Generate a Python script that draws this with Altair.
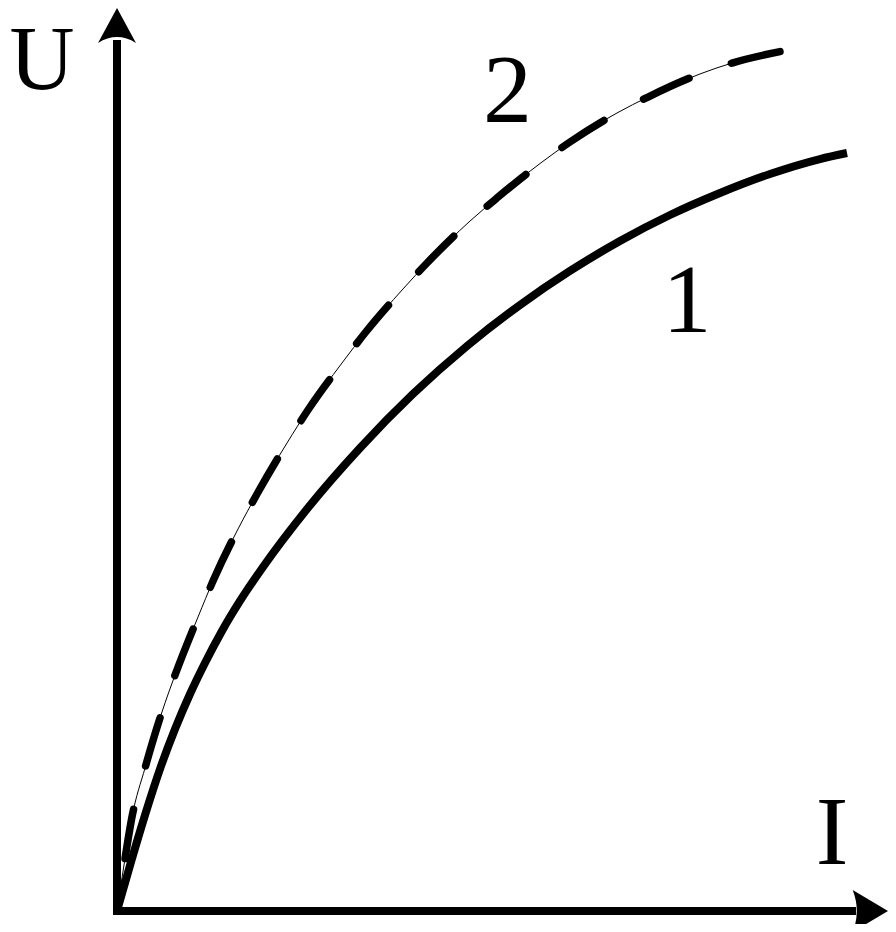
import altair as alt
import pandas as pd

# ---- data (I: current, U: voltage; arbitrary units 0..100) ----
# Curve 1 (solid, thick)
c1_I = [0, 0.82, 1.92, 3.84, 5.89, 7.95, 10.0, 12.05, 14.38, 16.85, 20.0, 26.03,
        33.29, 40.55, 47.95, 55.21, 62.05, 68.90, 75.75, 82.60, 89.45, 96.30, 100.0]
c1_U = [0, 2.44, 5.70, 11.16, 16.51, 21.16, 25.23, 28.84, 32.56, 36.05, 40.0, 46.74,
        53.84, 60.12, 65.70, 70.47, 74.42, 77.91, 80.93, 83.49, 85.70, 87.44, 88.14]

# Curve 2 (dashed)
c2_I = [0, 0.96, 2.05, 3.84, 6.16, 7.95, 11.10, 13.15, 16.58, 19.18, 23.29, 26.16,
        30.82, 33.97, 39.18, 42.47, 48.36, 52.05, 58.22, 62.05, 68.49, 72.74, 79.86,
        84.25, 91.23]
c2_U = [0, 5.35, 10.93, 16.63, 23.14, 27.44, 34.19, 38.37, 44.42, 48.49, 54.42, 58.26,
        63.72, 67.21, 72.33, 75.35, 80.23, 82.91, 87.09, 89.42, 92.79, 94.65, 97.33,
        98.60, 100.0]

# Text labels
labels = ["U", "I", "2", "1"]
label_I = [-10.27, 97.95, 53.49, 78.08]
label_U = [95.58, 5.47, 91.74, 67.33]
label_size = [90, 98, 98, 98]

# Axis extents (data units)
x_axis_I = [-0.55, 101.23]
y_axis_U = [-0.47, 101.28]
arrow_I = [0.0, 102.74]
arrow_U = [102.44, 0.0]

# ---- scales ----
xs = alt.Scale(domain=[-14.932, 105.616], nice=False, zero=False)
ys = alt.Scale(domain=[-1.512, 105.0], nice=False, zero=False)

def X(f="I"):
    return alt.X(f"{f}:Q", scale=xs, axis=None)

def Y(f="U"):
    return alt.Y(f"{f}:Q", scale=ys, axis=None)

df1 = pd.DataFrame({"I": c1_I, "U": c1_U})
df2 = pd.DataFrame({"I": c2_I, "U": c2_U})
dfl = pd.DataFrame({"I": label_I, "U": label_U, "t": labels, "s": label_size})

yaxis = alt.Chart(pd.DataFrame({"I": [0.0], "U": [y_axis_U[0]], "U2": [y_axis_U[1]]})).mark_rule(
    color="black", strokeWidth=8, strokeCap="butt"
).encode(x=X(), y=Y(), y2="U2:Q")

xaxis = alt.Chart(pd.DataFrame({"I": [x_axis_I[0]], "I2": [x_axis_I[1]], "U": [0.0]})).mark_rule(
    color="black", strokeWidth=8, strokeCap="butt"
).encode(x=X(), x2="I2:Q", y=Y())

up_arrow = alt.Chart(pd.DataFrame({"I": [arrow_I[0]], "U": [arrow_U[0]]})).mark_point(
    shape="M0,-1L0.864,0.59Q0,0.046,-0.864,0.59Z",
    size=1936, filled=True, color="black", opacity=1, strokeWidth=0
).encode(x=X(), y=Y())

right_arrow = alt.Chart(pd.DataFrame({"I": [arrow_I[1]], "U": [arrow_U[1]]})).mark_point(
    shape="M1,0L-0.682,-1Q-0.29,0,-0.682,1Z",
    size=1764, filled=True, color="black", opacity=1, strokeWidth=0
).encode(x=X(), y=Y())

curve1 = alt.Chart(df1).mark_line(
    color="black", strokeWidth=8, strokeCap="butt", interpolate="monotone"
).encode(x=X(), y=Y(), order="I:Q")

curve2_thin = alt.Chart(df2).mark_line(
    color="black", strokeWidth=1, interpolate="monotone"
).encode(x=X(), y=Y(), order="I:Q")

curve2_dash = alt.Chart(df2).mark_line(
    color="black", strokeWidth=7.5, strokeDash=[50, 45], strokeDashOffset=42,
    strokeCap="round", interpolate="monotone"
).encode(x=X(), y=Y(), order="I:Q")

text = alt.Chart(dfl).mark_text(
    font="Liberation Serif", baseline="alphabetic", align="center", color="black"
).encode(x=X(), y=Y(), text="t:N", size=alt.Size("s:Q", scale=None, legend=None))

chart = alt.layer(
    yaxis, xaxis, up_arrow, right_arrow, curve2_thin, curve2_dash, curve1, text
).properties(
    width=880, height=916, padding=0, autosize="none", background="white"
).configure_view(stroke=None)

chart.save("out.html", embed_options={"renderer": "svg", "actions": False})
